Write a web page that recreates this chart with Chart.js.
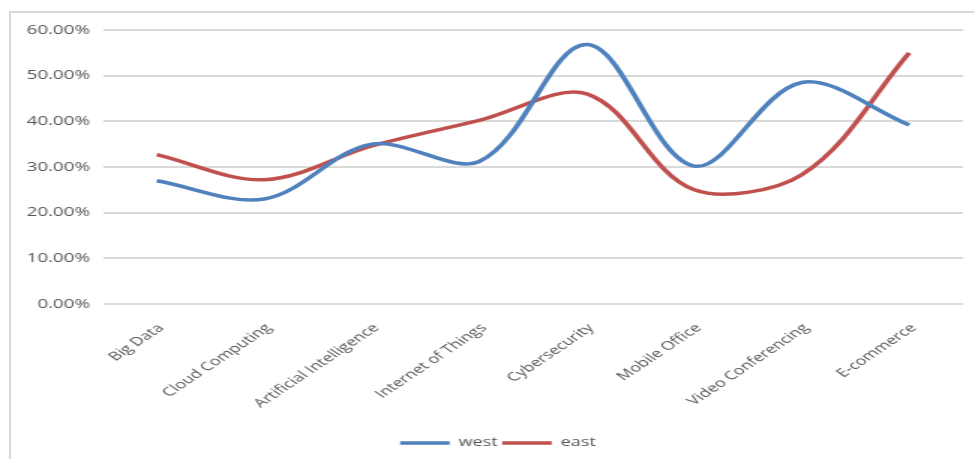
<!DOCTYPE html>
<html>
<head>
<meta charset="utf-8">
<script src="https://cdn.jsdelivr.net/npm/chart.js@4/dist/chart.umd.min.js"></script>
<style>
  html, body { margin: 0; padding: 0; background: #fff; overflow: hidden; width: 974px; height: 459px; }
  #frame { position: absolute; left: 9px; top: 11px; width: 990px; height: 470px;
           border-left: 2px solid #d9d9d9; border-top: 2px solid #d9d9d9; }
  /* the chart is drawn narrow and widened horizontally */
  #c { position: absolute; left: 0; top: 0; transform: scaleX(1.5); transform-origin: 0 0; }
</style>
</head>
<body>
<div id="frame"></div>
<canvas id="c" width="664" height="459"></canvas>
<script>
// Adoption share by technology, in percent
const categories = ['Big Data', 'Cloud Computing', 'Artificial Intelligence', 'Internet of Things',
                    'Cybersecurity', 'Mobile Office', 'Video Conferencing', 'E-commerce'];
const west = [27.0, 23.0, 35.0, 31.2, 56.8, 30.2, 48.5, 39.2];
const east = [32.7, 27.2, 34.6, 40.2, 46.0, 25.0, 28.3, 55.0];
const yMin = 0, yMax = 60, yStep = 10;

const textGrey = '#555555';

new Chart(document.getElementById('c'), {
  type: 'line',
  data: {
    labels: categories,
    datasets: [
      { label: 'west', data: west, borderColor: '#4f81bd', backgroundColor: '#4f81bd',
        borderWidth: 3.5, pointRadius: 0, tension: 0.34, fill: false },
      { label: 'east', data: east, borderColor: '#c0504d', backgroundColor: '#c0504d',
        borderWidth: 3.5, pointRadius: 0, tension: 0.34, fill: false }
    ]
  },
  options: {
    responsive: false,
    animation: false,
    devicePixelRatio: 1,
    layout: { padding: { left: 0, right: 0, top: 30, bottom: 0 } },
    plugins: {
      legend: {
        position: 'bottom',
        labels: {
          usePointStyle: true, pointStyle: 'line', pointStyleWidth: 33, padding: 3,
          color: textGrey, font: { family: 'Open Sans', size: 12 }
        }
      },
      tooltip: { enabled: false }
    },
    scales: {
      x: {
        offset: true,
        grid: { display: false },
        border: { display: false },
        ticks: { minRotation: 45, maxRotation: 45, autoSkip: false, padding: 9, labelOffset: 3,
                 color: textGrey, font: { family: 'Open Sans', size: 12 } },
        afterFit: s => { s.height = 130; }
      },
      y: {
        min: yMin, max: yMax,
        grid: { color: '#d9d9d9', lineWidth: 2, drawTicks: false },
        border: { display: false },
        ticks: { stepSize: yStep, padding: 8.7, color: textGrey,
                 font: { family: 'Open Sans', size: 12.5 },
                 callback: v => v.toFixed(2) + '%' },
        afterFit: s => { s.width = 68.7; }
      },
      // empty margin on the right of the plot
      yRight: {
        position: 'right',
        grid: { display: false },
        border: { display: false },
        ticks: { display: false },
        afterFit: s => { s.width = 22; }
      }
    }
  }
});
</script>
</body>
</html>
